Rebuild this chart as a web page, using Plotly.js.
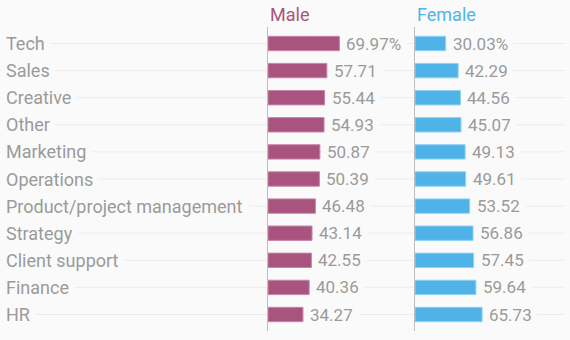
<!DOCTYPE html>
<html>
<head>
<meta charset="utf-8">
<script src="https://cdn.plot.ly/plotly-3.0.1.min.js"></script>
<style>html,body{margin:0;padding:0;background:#fafafa;}</style>
</head>
<body>
<div id="chart" style="width:570px;height:340px;"></div>
<script>
var categories = ["Tech","Sales","Creative","Other","Marketing","Operations","Product/project management","Strategy","Client support","Finance","HR"];
var maleValues = [69.97,57.71,55.44,54.93,50.87,50.39,46.48,43.14,42.55,40.36,34.27];
var femaleValues = [30.03,42.29,44.56,45.07,49.13,49.61,53.52,56.86,57.45,59.64,65.73];
var seriesNames = ["Male","Female"];

var BG = '#fafafa';
var MALE = '#a8547f', FEMALE = '#50b3e7';
var FONT = 'Roboto, sans-serif';

function fmt(v, i){ return v.toFixed(2) + (i === 0 ? '%' : ''); }

var traces = [
  {type:'bar', orientation:'h', y:categories, x:maleValues, xaxis:'x', yaxis:'y',
   marker:{color:MALE, line:{color:'#c885a8', width:1}}, width:0.53, hoverinfo:'none'},
  {type:'bar', orientation:'h', y:categories, x:femaleValues, xaxis:'x2', yaxis:'y2',
   marker:{color:FEMALE, line:{color:'#8fd0f2', width:1}}, width:0.53, hoverinfo:'none'}
];

var shapes = categories.map(function(c){
  return {type:'line', xref:'paper', yref:'y', x0:0, x1:565/570, y0:c, y1:c,
          line:{color:'#ececec', width:1}, layer:'below'};
});

var annotations = [];
categories.forEach(function(c, i){
  annotations.push({xref:'paper', yref:'y', x:0, y:c, xanchor:'left', yanchor:'middle',
    text:c, showarrow:false, bgcolor:BG, borderpad:5,
    font:{family:FONT, size:18, color:'#9a9a9a'}});
  annotations.push({xref:'x', yref:'y', x:maleValues[i], y:c, xanchor:'left', yanchor:'middle',
    text:fmt(maleValues[i], i), showarrow:false, bgcolor:BG, borderpad:5, xshift:1,
    font:{family:FONT, size:17, color:'#9a9a9a'}});
  annotations.push({xref:'x2', yref:'y2', x:femaleValues[i], y:c, xanchor:'left', yanchor:'middle',
    text:fmt(femaleValues[i], i), showarrow:false, bgcolor:BG, borderpad:5, xshift:1,
    font:{family:FONT, size:17, color:'#9a9a9a'}});
});
annotations.push({xref:'x domain', yref:'paper', x:0, y:1, xanchor:'left', yanchor:'bottom', yshift:0,
  text:seriesNames[0], showarrow:false, font:{family:FONT, size:18, color:MALE}});
annotations.push({xref:'x2 domain', yref:'paper', x:0, y:1, xanchor:'left', yanchor:'bottom', yshift:0,
  text:seriesNames[1], showarrow:false, font:{family:FONT, size:18, color:FEMALE}});

var layout = {
  width:570, height:340,
  margin:{l:0, r:0, t:27, b:9},
  paper_bgcolor:BG, plot_bgcolor:'rgba(0,0,0,0)',
  showlegend:false,
  xaxis:{domain:[268/570, 410/570], range:[0, 139.2], visible:false, fixedrange:true},
  xaxis2:{domain:[415/570, 565/570], range:[0, 147], visible:false, fixedrange:true},
  yaxis:{anchor:'x', type:'category', categoryorder:'array', categoryarray:categories,
         autorange:'reversed', showgrid:false, zeroline:false, showticklabels:false,
         showline:true, linecolor:'#bdbdbd', linewidth:1, ticks:''},
  yaxis2:{anchor:'x2', matches:'y', type:'category', categoryorder:'array', categoryarray:categories,
         autorange:'reversed', showgrid:false, zeroline:false, showticklabels:false,
         showline:true, linecolor:'#bdbdbd', linewidth:1, ticks:''},
  shapes:shapes,
  annotations:annotations
};

Plotly.newPlot('chart', traces, layout, {displayModeBar:false, staticPlot:true});
</script>
</body>
</html>
